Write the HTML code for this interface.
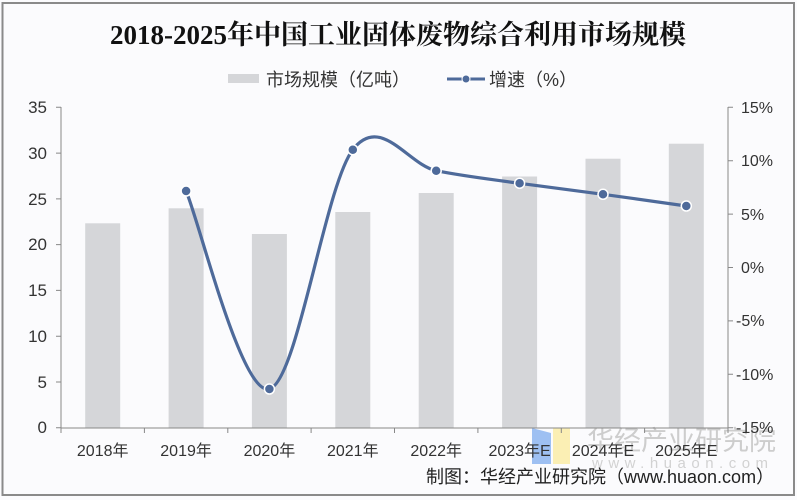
<!DOCTYPE html>
<html><head><meta charset="utf-8">
<style>
html,body{margin:0;padding:0;background:#fbfbfd;}
svg{display:block;}
text{font-family:"Liberation Sans","Noto Sans CJK SC",sans-serif;}
</style></head>
<body>
<svg width="797" height="500" viewBox="0 0 797 500" xmlns="http://www.w3.org/2000/svg">
<rect x="0" y="0" width="797" height="500" fill="#fbfbfd"/>
<rect x="2.5" y="3" width="791.5" height="492" fill="none" stroke="#8a8a8a" stroke-width="2"/>

<!-- title -->
<text x="398" y="44" text-anchor="middle" font-size="27" font-weight="bold" fill="#111" style="font-family:'Liberation Serif','Noto Serif CJK SC',serif;">2018-2025年中国工业固体废物综合利用市场规模</text>

<!-- legend -->
<rect x="228" y="74" width="31" height="9" fill="#d5d6d9"/>
<text x="266" y="86" font-size="18" fill="#333">市场规模（亿吨）</text>
<line x1="447" y1="79" x2="485" y2="79" stroke="#4e6a9a" stroke-width="3"/>
<circle cx="466" cy="79" r="4" fill="#4e6a9a" stroke="#fff" stroke-width="1"/>
<text x="489" y="86" font-size="18" fill="#333">增速（%）</text>

<!-- watermark -->
<polygon points="532,428 551,433 551,464 532,464" fill="#9ec0f2"/>
<rect x="553" y="428" width="17" height="36" fill="#fbefb4"/>
<text x="587" y="450" font-size="27" fill="#cdcdcd">华经产业研究院</text>
<text x="592" y="468" font-size="15" fill="#d2d2d2" letter-spacing="5.5">www.huaon.com</text>

<!-- bars -->
<g fill="#d5d6d9">
<rect x="85.2" y="223.3" width="35" height="204.7"/>
<rect x="168.6" y="208.3" width="35" height="219.7"/>
<rect x="251.9" y="234" width="35" height="194"/>
<rect x="335.3" y="212" width="35" height="216"/>
<rect x="418.7" y="193" width="35" height="235"/>
<rect x="502.1" y="176.5" width="35" height="251.5"/>
<rect x="585.5" y="158.7" width="35" height="269.3"/>
<rect x="668.8" y="143.7" width="35" height="284.3"/>
</g>

<!-- axes -->
<g stroke="#888" stroke-width="1" fill="none">
<line x1="61" y1="107" x2="61" y2="428"/>
<line x1="728" y1="107" x2="728" y2="428"/>
<line x1="61" y1="428" x2="728" y2="428"/>
<!-- left ticks -->
<path d="M56 107.3H61M56 153.1H61M56 198.9H61M56 244.6H61M56 290.4H61M56 336.2H61M56 382H61M56 427.7H61"/>
<!-- right ticks -->
<path d="M728 107.3H733M728 160.7H733M728 214.1H733M728 267.5H733M728 320.9H733M728 374.3H733M728 427.7H733"/>
<!-- bottom ticks -->
<path d="M61 428V433M144.4 428V433M227.8 428V433M311.1 428V433M394.5 428V433M477.9 428V433M561.3 428V433M644.6 428V433M728 428V433"/>
</g>

<!-- left labels -->
<g font-size="17" fill="#333" text-anchor="end">
<text x="47" y="113">35</text>
<text x="47" y="159">30</text>
<text x="47" y="205">25</text>
<text x="47" y="250">20</text>
<text x="47" y="296">15</text>
<text x="47" y="342">10</text>
<text x="47" y="388">5</text>
<text x="47" y="433">0</text>
</g>
<!-- right labels -->
<g font-size="16" fill="#333">
<text x="741" y="113">15%</text>
<text x="741" y="166">10%</text>
<text x="741" y="220">5%</text>
<text x="741" y="273">0%</text>
<text x="736" y="326">-5%</text>
<text x="736" y="380">-10%</text>
<text x="736" y="433">-15%</text>
</g>
<!-- x labels -->
<g font-size="16" fill="#333" text-anchor="middle">
<text x="102.7" y="456">2018年</text>
<text x="186.1" y="456">2019年</text>
<text x="269.4" y="456">2020年</text>
<text x="352.8" y="456">2021年</text>
<text x="436.2" y="456">2022年</text>
<text x="519.6" y="456">2023年E</text>
<text x="603" y="456">2024年E</text>
<text x="686.3" y="456">2025年E</text>
</g>

<!-- line -->
<path d="M186.1 191 C200 224 241.6 395.9 269.4 389 C297.2 382.1 325 186.1 352.8 149.7 C380.6 113.3 408.4 165.1 436.2 170.7 C464 176.3 491.8 179.4 519.6 183.3 C547.4 187.2 575.2 190.5 603 194.3 C630.8 198.1 672.4 204 686.3 206" fill="none" stroke="#4e6a9a" stroke-width="3.2" stroke-linecap="round"/>
<g fill="#4e6a9a" stroke="#fff" stroke-width="1.5">
<circle cx="186.1" cy="191" r="5"/>
<circle cx="269.4" cy="389" r="5"/>
<circle cx="352.8" cy="149.7" r="5"/>
<circle cx="436.2" cy="170.7" r="5"/>
<circle cx="519.6" cy="183.3" r="5"/>
<circle cx="603" cy="194.3" r="5"/>
<circle cx="686.3" cy="206" r="5"/>
</g>

<!-- source -->
<text x="426" y="483" font-size="18" fill="#222">制图：华经产业研究院（www.huaon.com）</text>
</svg>
</body></html>
